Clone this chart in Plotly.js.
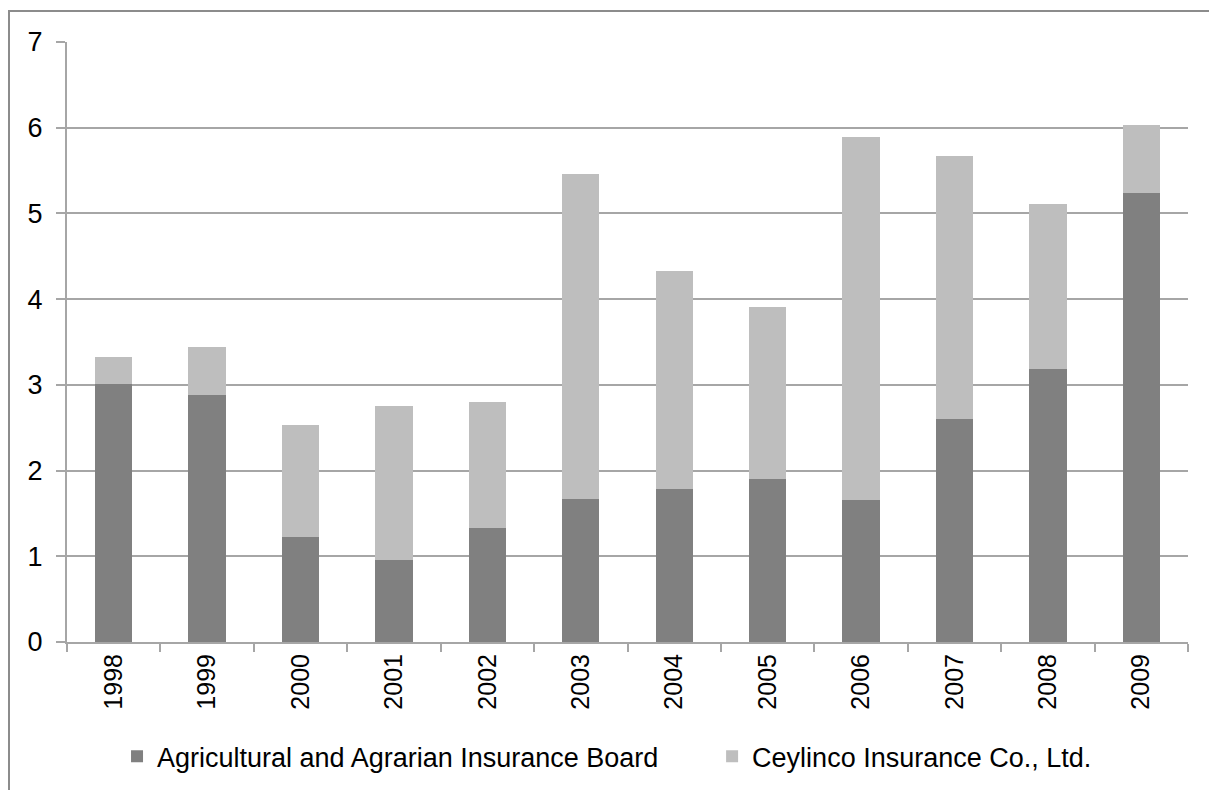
<!DOCTYPE html>
<html>
<head>
<meta charset="utf-8">
<script src="https://cdn.plot.ly/plotly-3.0.1.min.js"></script>
<style>
html,body{margin:0;padding:0;background:#fff;}
#wrap{position:relative;width:1209px;height:790px;}
#chart{width:1209px;height:790px;}
#frame{position:absolute;left:8px;top:10px;width:1300px;height:900px;border:2px solid #8c8c8c;pointer-events:none;box-sizing:border-box;}
</style>
</head>
<body>
<div id="wrap"><div id="chart"></div><div id="frame"></div></div>
<script>
const years = ["1998","1999","2000","2001","2002","2003","2004","2005","2006","2007","2008","2009"];
const agriValues = [3.01, 2.88, 1.22, 0.96, 1.33, 1.67, 1.78, 1.90, 1.66, 2.60, 3.19, 5.24];
const ceylincoValues = [0.31, 0.56, 1.31, 1.79, 1.47, 3.79, 2.55, 2.01, 4.23, 3.07, 1.92, 0.79];
const seriesNames = ["Agricultural and Agrarian Insurance Board", "Ceylinco Insurance Co., Ltd."];
const yTicks = [0,1,2,3,4,5,6,7];

const data = [
  {type:"bar", name:seriesNames[0], x:years, y:agriValues, marker:{color:"#808080"}, legend:"legend"},
  {type:"bar", name:seriesNames[1], x:years, y:ceylincoValues, marker:{color:"#bebebe"}, legend:"legend2"}
];
const legendBase = {orientation:"h", xref:"container", yref:"container", xanchor:"left", y:0.042, yanchor:"middle",
          font:{size:27, color:"#000"}, itemwidth:30, bgcolor:"rgba(0,0,0,0)"};
const layout = {
  width:1209, height:790,
  barmode:"stack", bargap:0.6,
  paper_bgcolor:"#ffffff", plot_bgcolor:"#ffffff",
  margin:{l:67, r:21, t:42, b:148, autoexpand:false},
  font:{family:"Liberation Sans, Arial, sans-serif", color:"#000"},
  showlegend:true,
  legend:Object.assign({}, legendBase, {x:0.0968}),
  legend2:Object.assign({}, legendBase, {x:0.589}),
  xaxis:{type:"category", tickangle:-90, tickfont:{size:25},
         showline:true, linecolor:"#a6a6a6", linewidth:2,
         ticks:"outside", tickson:"boundaries", ticklen:8, tickcolor:"#a6a6a6", tickwidth:2,
         showgrid:false, zeroline:false, automargin:false},
  yaxis:{range:[0,7], tickvals:yTicks, ticktext:yTicks.map(String), tickfont:{size:27},
         showline:true, linecolor:"#a6a6a6", linewidth:2,
         ticks:"outside", ticklen:9, tickcolor:"#a6a6a6", tickwidth:2, ticklabelstandoff:8,
         showgrid:true, gridcolor:"#a6a6a6", gridwidth:2, zeroline:false, automargin:false}
};
Plotly.newPlot("chart", data, layout, {displayModeBar:false, staticPlot:true});
</script>
</body>
</html>
